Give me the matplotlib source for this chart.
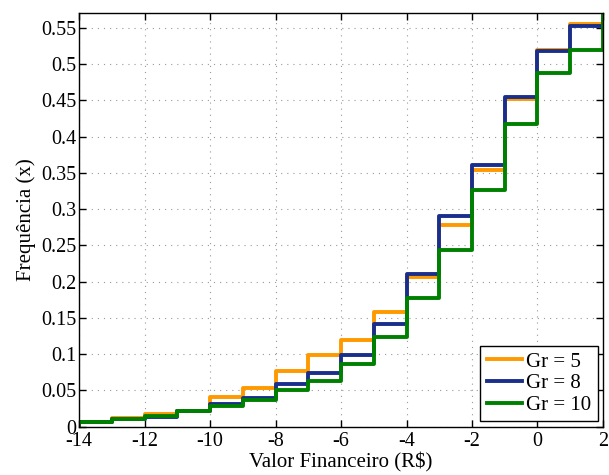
import matplotlib
matplotlib.use("Agg")
import matplotlib.pyplot as plt
import numpy as np

edges = list(range(-14, 3))
gr5 = [0.006, 0.012, 0.018, 0.021, 0.041, 0.053, 0.077, 0.099, 0.120, 0.158,
       0.206, 0.278, 0.354, 0.452, 0.520, 0.555]
gr8 = [0.006, 0.010, 0.013, 0.021, 0.031, 0.040, 0.059, 0.074, 0.099, 0.142,
       0.211, 0.290, 0.361, 0.455, 0.518, 0.553]
gr10 = [0.006, 0.010, 0.015, 0.021, 0.028, 0.037, 0.050, 0.063, 0.086, 0.123,
        0.178, 0.243, 0.326, 0.418, 0.488, 0.520]
next_val = 0.60
labels = ["Gr = 5", "Gr = 8", "Gr = 10"]
colors = ["#FF9900", "#1A2F8C", "#008000"]
xticks = list(range(-14, 3, 2))
yticks = [0, 0.05, 0.1, 0.15, 0.2, 0.25, 0.3, 0.35, 0.4, 0.45, 0.5, 0.55]
ytick_labels = ["0", "0.05", "0.1", "0.15", "0.2", "0.25", "0.3", "0.35",
                "0.4", "0.45", "0.5", "0.55"]

plt.rcParams['font.family'] = ['Liberation Serif', 'DejaVu Serif']
plt.rcParams['font.size'] = 14.5

fig = plt.figure(figsize=(6.09, 4.75), dpi=100)
ax = fig.add_axes([0.130, 0.102, 0.860, 0.870])

for vals, lab, c in zip([gr5, gr8, gr10], labels, colors):
    xs = [edges[0]] + edges + [edges[-1]]
    ys = [0] + vals + [vals[-1], next_val]
    ax.step(xs, ys, where='post', color=c, lw=2.8, label=lab)

ax.set_xlim(-14, 2)
ax.set_ylim(0, 0.57)
ax.set_xticks(xticks)
ax.set_xticklabels([str(t) for t in xticks])
ax.set_yticks(yticks)
ax.set_yticklabels(ytick_labels)
ax.tick_params(direction='in', top=True, right=True, length=5, width=1,
               labelsize=14.5, pad=2)
ax.tick_params(axis='x', pad=4)
ax.grid(True, linestyle=(0, (1, 4.5)), color='#999999', lw=0.8)
for s in ax.spines.values():
    s.set_linewidth(1.0)
ax.set_xlabel("Valor Financeiro (R$)", fontsize=15, labelpad=1)
ax.set_ylabel("Frequência (x)", fontsize=15, labelpad=4)

leg = ax.legend(loc='lower right', fancybox=False, framealpha=1,
                edgecolor='black', fontsize=15, handlelength=1.7,
                borderpad=0.3, labelspacing=0.1, handletextpad=0.2,
                borderaxespad=0.25)
leg.get_frame().set_linewidth(1.0)

fig.savefig("out.png", dpi=100)
